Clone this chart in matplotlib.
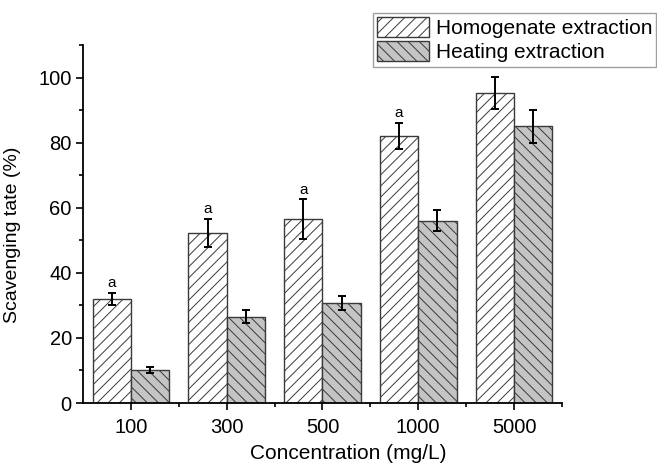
import matplotlib as mpl
import matplotlib.pyplot as plt
import numpy as np
from matplotlib.ticker import MultipleLocator

CONCENTRATIONS = ["100", "300", "500", "1000", "5000"]
HOMOGENATE = [32.0, 52.3, 56.5, 82.0, 95.3]
HOMOGENATE_ERR = [1.9, 4.3, 6.1, 4.1, 4.9]
HEATING = [10.2, 26.5, 30.8, 56.0, 85.0]
HEATING_ERR = [1.0, 2.0, 2.2, 3.2, 5.0]
SIG_LABELS = ["a", "a", "a", "a", ""]

RCPARAMS = {
    "font.size": 14.5,
    "font.family": "sans-serif",
    "font.sans-serif": ["Liberation Sans", "DejaVu Sans"],
    "hatch.linewidth": 0.7,
    "hatch.color": "#4a4a4a",
}
WIDTH = 0.4
EDGE = "#3a3a3a"


def main():
    for key in RCPARAMS:
        mpl.rcParams[key] = RCPARAMS[key]
    fig = plt.figure(figsize=(6.57, 4.67), dpi=100)
    ax = fig.add_axes([0.1263, 0.137, 0.729, 0.7666])
    x = np.arange(len(CONCENTRATIONS))
    ax.bar(
        x - WIDTH / 2, HOMOGENATE, WIDTH, color="white", edgecolor=EDGE,
        hatch="///", linewidth=1.0, label="Homogenate extraction",
    )
    ax.bar(
        x + WIDTH / 2, HEATING, WIDTH, color="#c4c4c4", edgecolor=EDGE,
        hatch="\\\\\\", linewidth=1.0, label="Heating extraction",
    )
    err_kw = dict(fmt="none", ecolor="black", elinewidth=1.4, capsize=3, capthick=1.4)
    ax.errorbar(x - WIDTH / 2, HOMOGENATE, yerr=HOMOGENATE_ERR, **err_kw)
    ax.errorbar(x + WIDTH / 2, HEATING, yerr=HEATING_ERR, **err_kw)
    for xi, val, err, lab in zip(x, HOMOGENATE, HOMOGENATE_ERR, SIG_LABELS):
        if lab:
            ax.text(xi - WIDTH / 2, val + err + 0.8, lab, ha="center",
                    va="bottom", fontsize=11)

    ax.set_xlim(-0.5, 4.5)
    ax.set_ylim(0, 110)
    ax.set_xticks(x)
    ax.set_xticklabels(CONCENTRATIONS)
    ax.set_xticks(np.append(x[:-1] + 0.5, 4.5), minor=True)
    ax.set_yticks(np.arange(0, 101, 20))
    ax.yaxis.set_minor_locator(MultipleLocator(10))
    ax.tick_params(axis="both", which="major", length=5, width=1.2, direction="out")
    ax.tick_params(axis="both", which="minor", length=3, width=1.2, direction="out")
    ax.tick_params(axis="x", which="major", pad=6)
    ax.tick_params(axis="y", which="major", pad=3)
    ax.spines["top"].set_visible(False)
    ax.spines["right"].set_visible(False)
    ax.spines["left"].set_linewidth(1.3)
    ax.spines["bottom"].set_linewidth(1.3)
    ax.set_xlabel("Concentration (mg/L)", fontsize=15, labelpad=3)
    ax.xaxis.set_label_coords(0.553, -0.115)
    ax.set_ylabel("Scavenging tate (%)", fontsize=14)
    ax.yaxis.set_label_coords(-0.13, 0.47)

    leg = ax.legend(
        loc="upper left", bbox_to_anchor=(373 / 657, 1 - 13 / 467),
        bbox_transform=fig.transFigure, borderaxespad=0, frameon=True,
        fancybox=False, edgecolor="#888888", handlelength=2.5, handleheight=1.1,
        handletextpad=0.3, borderpad=0.2, labelspacing=0.15, fontsize=15,
    )
    leg.get_frame().set_linewidth(1.0)
    fig.savefig("out.png", dpi=100)


if __name__ == "__main__":
    main()
